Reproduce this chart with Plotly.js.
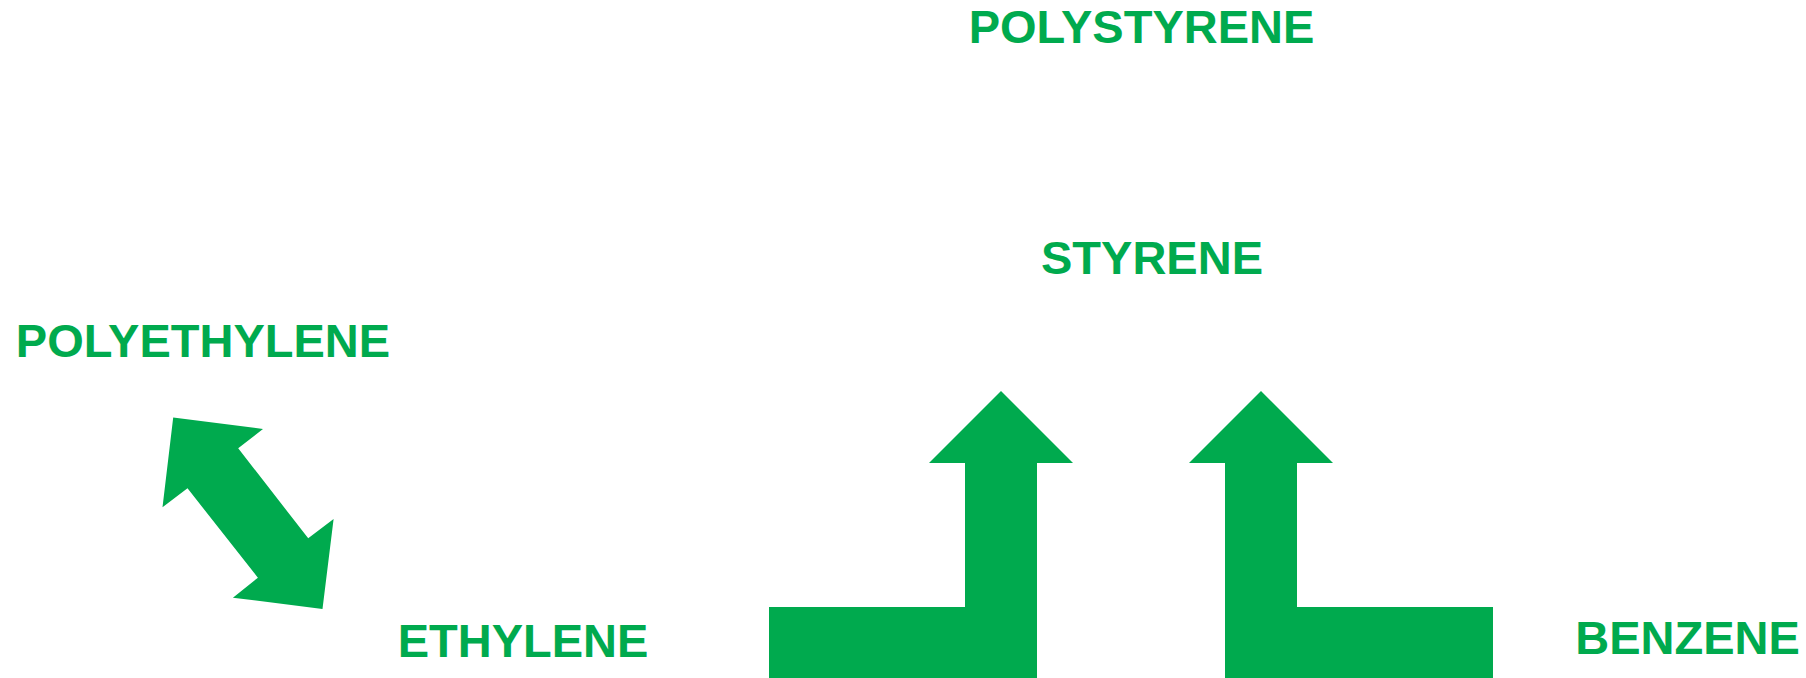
<!DOCTYPE html>
<html>
<head>
<meta charset="utf-8">
<script src="https://cdn.plot.ly/plotly-3.0.1.min.js"></script>
<style>
  html, body { margin: 0; padding: 0; background: #ffffff; }
  #chart { width: 1806px; height: 678px; }
</style>
</head>
<body>
<div id="chart"></div>
<script>
// ---- diagram content ----
const labels = ['POLYSTYRENE', 'STYRENE', 'POLYETHYLENE', 'ETHYLENE', 'BENZENE'];
const labelX = [1141.5, 1152, 203, 523, 1687.5];
const labelY = [31.5, 262.5, 345, 645.5, 642];

// two up-arrows (L-shaped): tip positions and the end of their horizontal foot
const upTipX = [1001, 1261];
const upTipY = [391, 391];
const upFootEnd = [769, 1493];

// double-headed diagonal arrow outline
const dblX = [173.2, 263.0, 238.2, 308.2, 333.6, 322.5, 232.9, 257.9, 187.5, 162.5];
const dblY = [417.5, 429.0, 448.3, 538.3, 519.0, 609.0, 597.7, 577.7, 488.3, 507.3];

// ---- geometry helpers ----
const GREEN = '#00AA4E';
const headHalf = 72, stemHalf = 36, headLen = 72, footTop = 607, bottom = 678;

function upArrow(tx, ty, footEnd) {
  const xs = [], ys = [];
  const sl = tx - stemHalf, sr = tx + stemHalf, hb = ty + headLen;
  if (footEnd < tx) {
    xs.push(footEnd, footEnd, sl, sl, tx - headHalf, tx, tx + headHalf, sr, sr, footEnd);
    ys.push(bottom, footTop, footTop, hb, hb, ty, hb, hb, bottom, bottom);
  } else {
    xs.push(sl, sl, tx - headHalf, tx, tx + headHalf, sr, sr, footEnd, footEnd, sl);
    ys.push(bottom, hb, hb, ty, hb, hb, footTop, footTop, bottom, bottom);
  }
  return {x: xs, y: ys};
}

const traces = [];
upTipX.forEach((tx, i) => {
  const p = upArrow(tx, upTipY[i], upFootEnd[i]);
  traces.push({
    type: 'scatter', mode: 'lines', x: p.x, y: p.y,
    fill: 'toself', fillcolor: GREEN,
    line: {color: GREEN, width: 0}, hoverinfo: 'skip', showlegend: false
  });
});
traces.push({
  type: 'scatter', mode: 'lines',
  x: dblX.concat([dblX[0]]), y: dblY.concat([dblY[0]]),
  fill: 'toself', fillcolor: GREEN,
  line: {color: GREEN, width: 0}, hoverinfo: 'skip', showlegend: false
});
traces.push({
  type: 'scatter', mode: 'text',
  x: labelX, y: labelY,
  text: labels.map(t => '<b>' + t + '</b>'),
  textposition: 'middle center',
  textfont: {family: 'Liberation Sans, Arial, sans-serif', size: 47, color: GREEN},
  hoverinfo: 'skip', showlegend: false
});

const layout = {
  width: 1806, height: 678,
  margin: {l: 0, r: 0, t: 0, b: 0},
  paper_bgcolor: '#ffffff', plot_bgcolor: '#ffffff',
  xaxis: {range: [0, 1806], visible: false, fixedrange: true},
  yaxis: {range: [678, 0], visible: false, fixedrange: true},
  showlegend: false
};

Plotly.newPlot('chart', traces, layout, {staticPlot: true, displayModeBar: false});
</script>
</body>
</html>
